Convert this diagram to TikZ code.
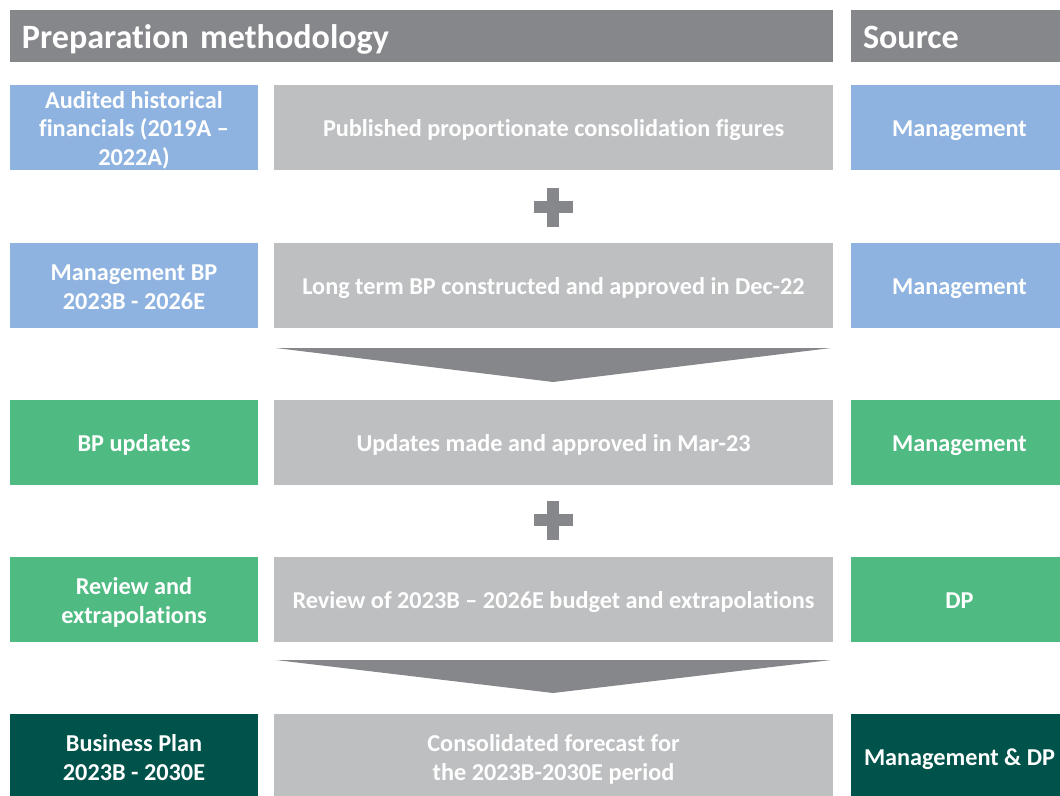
\documentclass[tikz,border=0pt]{standalone}
\usepackage{fontspec}
\setmainfont{Carlito}[Ligatures=NoCommon]
\usetikzlibrary{positioning}

\definecolor{hdrgray}{HTML}{86878B}
\definecolor{midgray}{HTML}{BEBFC1}
\definecolor{mgtblue}{HTML}{8EB3E0}
\definecolor{bpgreen}{HTML}{4FBB82}
\definecolor{dkgreen}{HTML}{00534A}

\tikzset{
  cell/.style={fill=#1, text=white, align=center, inner sep=2pt,
    font=\bfseries\fontsize{13.8}{16.4}\selectfont, minimum height=1.7cm,
    text height=13.5pt, text depth=3pt},
  lcell/.style={cell=#1, minimum width=4.96cm},
  mcell/.style={cell=midgray, minimum width=11.18cm},
  rcell/.style={cell=#1, minimum width=4.34cm},
  twolines/.style={text height=30pt, text depth=3pt},
  threelines/.style={text height=45.4pt, text depth=2pt, inner ysep=0pt},
  hdr/.style={fill=hdrgray, text=white, align=left, inner xsep=0.24cm,
    font=\bfseries\fontsize{19.4}{22}\selectfont, minimum height=1.04cm,
    text height=17.3pt, text depth=2.7pt}
}

\begin{document}
\begin{tikzpicture}
\useasboundingbox (0,0) rectangle (21.2,-15.9);
\def\lx{2.68}
\def\mx{11.07}
\def\rx{19.19}

% headers
\node[hdr, text width=15.98cm] (hmeth) at (8.43,-0.72) {Preparation methodology};
\node[hdr, text width=3.86cm] (hsrc) at (\rx,-0.72) {Source};

% row 1
\node[lcell=mgtblue, threelines] (hist) at (\lx,-2.55) {Audited historical\\financials (2019A --\\2022A)};
\node[mcell] (pubfig) at (\mx,-2.55) {Published proportionate consolidation figures};
\node[rcell=mgtblue] (src1) at (\rx,-2.55) {Management};

% row 2
\node[lcell=mgtblue, twolines] (mgtbp) at (\lx,-5.71) {Management BP\\2023B - 2026E};
\node[mcell] (ltbp) at (\mx,-5.71) {Long term BP constructed and approved in Dec-22};
\node[rcell=mgtblue] (src2) at (\rx,-5.71) {Management};

% row 3
\node[lcell=bpgreen] (bpupd) at (\lx,-8.85) {BP updates};
\node[mcell] (updmade) at (\mx,-8.85) {Updates made and approved in Mar-23};
\node[rcell=bpgreen] (src3) at (\rx,-8.85) {Management};

% row 4
\node[lcell=bpgreen, twolines] (review) at (\lx,-11.99) {Review and\\extrapolations};
\node[mcell] (budget) at (\mx,-11.99) {Review of 2023B -- 2026E budget and extrapolations};
\node[rcell=bpgreen] (src4) at (\rx,-11.99) {DP};

% row 5
\node[lcell=dkgreen, twolines] (bizplan) at (\lx,-15.13) {Business Plan\\2023B - 2030E};
\node[mcell, twolines] (forecast) at (\mx,-15.13) {Consolidated forecast for\\the 2023B-2030E period};
\node[rcell=dkgreen] (src5) at (\rx,-15.13) {Management \& DP};

% plus signs
\fill[hdrgray] (10.67,-4.26) rectangle (11.45,-4.02);
\fill[hdrgray] (10.94,-3.75) rectangle (11.18,-4.53);
\fill[hdrgray] (10.67,-10.52) rectangle (11.45,-10.28);
\fill[hdrgray] (10.94,-10.01) rectangle (11.18,-10.79);

% down arrows
\fill[hdrgray] (5.52,-6.96) -- (16.62,-6.96) -- (11.06,-7.64) -- cycle;
\fill[hdrgray] (5.52,-13.2) -- (16.62,-13.2) -- (11.06,-13.86) -- cycle;
\end{tikzpicture}
\end{document}
